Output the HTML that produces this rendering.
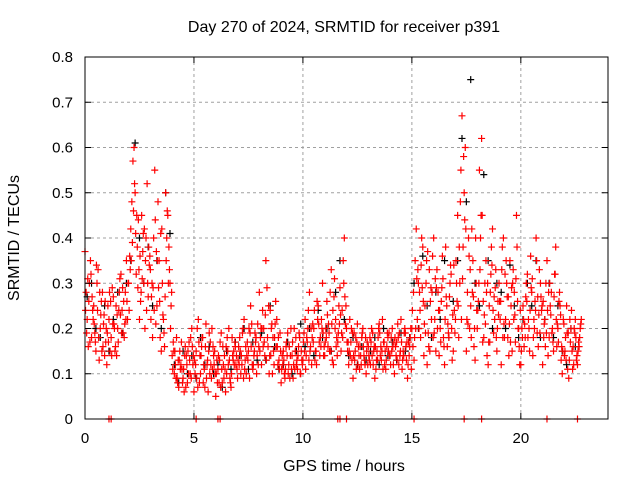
<!DOCTYPE html>
<html><head><meta charset="utf-8"><style>
body{margin:0;background:#fff}
svg{display:block;font-family:"Liberation Sans",sans-serif}
</style></head><body>
<svg id="chart" width="640" height="480" viewBox="0 0 640 480">
<rect width="640" height="480" fill="#fff"/>
<text x="344" y="32" font-size="16" text-anchor="middle">Day 270 of 2024, SRMTID for receiver p391</text>
<text x="344" y="471" font-size="16" text-anchor="middle">GPS time / hours</text>
<text transform="translate(19,238) rotate(-90)" font-size="16" text-anchor="middle">SRMTID / TECUs</text>
<g id="grid"></g>
<g id="marks"></g>
<g id="axes"></g>
</svg>
<script>
const xTicks=[0,5,10,15,20];
const yTicks=[0,0.1,0.2,0.3,0.4,0.5,0.6,0.7,0.8];
const redA=[.37,.22,.30,.18,.25,.15,.33,.20,.28,.14,.12,.22,.18,.27,.16,.20,.31,.24,.18,.35,.30,.42,.57,.50,.38,.22,.45,.30,.40,.27,.33,.18,.55,.25,.35,.15,.22,.50,.45,.30,.14,.10,.18,.07,.12,.09,.16,.08,.13,.20,.06,.15,.22,.10,.18,.07,.12,.19,.09,.14,.05,.11,.17,.08,.14,.10,.20,.07,.13,.16,.09,.18,.12,.22,.10,.15,.25,.11,.19,.14,.28,.12,.20,.35,.16,.24,.10,.18,.22,.13,.08,.15,.11,.19,.09,.14,.20,.12,.16,.10,.13,.22,.17,.28,.12,.20,.15,.25,.18,.30,.14,.26,.19,.33,.12,.22,.17,.29,.24,.40,.20,.12,.17,.09,.15,.21,.11,.18,.14,.10,.16,.12,.19,.09,.15,.21,.13,.17,.11,.18,.14,.20,.10,.17,.12,.22,.15,.19,.09,.16,.20,.13,.42,.30,.18,.38,.25,.12,.33,.22,.40,.15,.28,.20,.36,.12,.25,.18,.32,.15,.22,.45,.30,.67,.50,.15,.40,.25,.35,.13,.20,.55,.62,.18,.35,.12,.28,.42,.22,.15,.30,.12,.40,.22,.18,.35,.15,.28,.45,.20,.12,.25,.18,.32,.15,.28,.22,.40,.16,.30,.12,.22,.35,.18,.28,.15,.38,.20,.25,.10,.14,.25,.09,.20,.16,.22,.12,.18];
const redB=[.28,.16,.35,.24,.19,.30,.13,.26,.21,.17,.25,.15,.29,.20,.14,.24,.32,.19,.28,.22,.36,.48,.60,.32,.44,.26,.37,.20,.52,.34,.27,.40,.21,.48,.18,.30,.16,.40,.38,.25,.17,.12,.08,.15,.11,.06,.14,.10,.18,.12,.10,.20,.08,.16,.12,.21,.06,.17,.11,.15,.13,.08,.19,.12,.06,.15,.09,.18,.12,.14,.16,.10,.20,.13,.17,.09,.21,.14,.18,.12,.18,.24,.14,.29,.10,.20,.15,.26,.12,.19,.14,.10,.17,.12,.20,.09,.15,.11,.18,.13,.19,.14,.24,.16,.21,.13,.26,.17,.22,.14,.20,.16,.28,.13,.31,.18,.25,.15,.35,.21,.15,.22,.13,.19,.11,.16,.14,.20,.12,.17,.13,.20,.15,.11,.18,.14,.22,.12,.16,.19,.18,.12,.16,.21,.14,.11,.19,.13,.17,.20,.16,.35,.22,.28,.40,.14,.30,.19,.26,.36,.22,.33,.14,.26,.18,.38,.21,.30,.13,.24,.30,.18,.55,.38,.60,.28,.20,.42,.16,.30,.26,.40,.17,.30,.14,.25,.38,.19,.33,.26,.22,.38,.18,.30,.14,.25,.33,.17,.26,.12,.20,.16,.30,.22,.36,.14,.26,.19,.33,.24,.18,.30,.14,.25,.20,.32,.16,.26,.13,.22,.18,.11,.22,.15,.20,.13,.17,.21];
const redC=[.24,.31,.17,.27,.21,.34,.18,.23,.16,.26,.19,.28,.14,.21,.25,.17,.23,.29,.21,.26,.24,.35,.46,.41,.29,.36,.31,.42,.24,.38,.22,.29,.44,.35,.26,.42,.19,.35,.30,.20,.11,.15,.09,.13,.17,.11,.07,.15,.10,.16,.13,.09,.17,.14,.08,.16,.13,.10,.20,.12,.10,.14,.07,.16,.11,.18,.13,.10,.15,.12,.13,.15,.19,.11,.14,.20,.16,.12,.17,.21,.15,.20,.17,.13,.25,.14,.18,.21,.16,.11,.11,.13,.16,.10,.14,.17,.11,.13,.19,.15,.17,.11,.20,.15,.18,.24,.12,.21,.16,.19,.17,.23,.15,.21,.27,.16,.19,.23,.18,.27,.17,.15,.20,.14,.18,.12,.16,.19,.13,.15,.14,.17,.12,.16,.13,.19,.15,.17,.13,.15,.12,.16,.18,.13,.19,.17,.14,.16,.12,.18,.24,.18,.31,.20,.34,.26,.19,.37,.15,.28,.19,.29,.24,.17,.31,.22,.16,.27,.20,.34,.35,.25,.48,.31,.44,.22,.36,.18,.27,.40,.24,.33,.45,.23,.28,.17,.32,.24,.29,.20,.26,.33,.21,.35,.27,.17,.30,.23,.38,.16,.15,.22,.27,.18,.24,.31,.20,.35,.23,.27,.26,.16,.24,.30,.19,.27,.22,.17,.23,.15,.15,.19,.13,.24,.12,.18,.15,.20];
const redD=[.19,.26,.32,.22,.17,.24,.28,.15,.23,.20,.17,.26,.21,.15,.23,.28,.19,.26,.22,.30,.33,.39,.52,.45,.33,.28,.41,.35,.30,.36,.30,.24,.37,.29,.41,.23,.27,.46,.33,.28,.15,.09,.13,.11,.08,.14,.12,.17,.09,.14,.12,.07,.14,.18,.11,.09,.15,.12,.16,.10,.08,.13,.11,.09,.16,.12,.08,.14,.17,.11,.12,.14,.09,.16,.13,.19,.12,.15,.10,.16,.20,.16,.23,.18,.14,.21,.12,.16,.18,.15,.12,.09,.14,.16,.11,.12,.18,.14,.10,.12,.15,.18,.13,.20,.17,.15,.22,.14,.20,.16,.18,.21,.15,.24,.20,.14,.21,.19,.30,.25,.17,.14,.19,.13,.17,.14,.12,.16,.18,.12,.18,.14,.16,.13,.20,.16,.11,.15,.19,.14,.15,.17,.14,.18,.15,.13,.20,.17,.14,.11,.28,.20,.33,.24,.29,.21,.35,.16,.29,.18,.31,.20,.24,.29,.16,.27,.19,.34,.23,.19,.26,.38,.22,.58,.42,.21,.33,.28,.20,.24,.30,.45,.26,.21,.30,.17,.34,.27,.18,.23,.26,.18,.32,.27,.21,.29,.22,.31,.20,.24,.18,.21,.26,.20,.29,.18,.24,.27,.19,.25,.21,.19,.28,.23,.17,.32,.21,.28,.16,.21,.13,.19,.17,.11,.19,.14,.16,.22];
const blackV=[.27,.30,.20,.18,.25,.15,.22,.28,.19,.30,.35,.61,.40,.30,.38,.25,.35,.20,.50,.41,.12,.08,.15,.10,.14,.09,.18,.12,.16,.10,.12,.07,.15,.11,.17,.14,.20,.11,.17,.13,.19,.13,.25,.16,.11,.12,.17,.10,.15,.21,.16,.20,.14,.24,.18,.20,.15,.28,.35,.22,.14,.18,.12,.16,.13,.15,.18,.12,.20,.14,.17,.13,.19,.15,.18,.30,.20,.36,.25,.18,.28,.22,.35,.18,.26,.35,.62,.48,.75,.30,.25,.54,.35,.20,.30,.28,.20,.34,.25,.18,.22,.30,.25,.35,.18,.22,.30,.18,.25,.15,.12,.20,.16];
const zeroT=[1.1,1.2,5.1,6.1,6.2,11.6,11.7,12.0,15.1,17.4,18.2,21.2,22.6];
const X0=85,X1=608,Y0=419,Y1=57;
const xs=t=>X0+t/24*(X1-X0), ys=v=>Y0-v/0.8*(Y0-Y1);
const NS='http://www.w3.org/2000/svg';
function mk(tag,at,parent){const e=document.createElementNS(NS,tag);for(const k in at)e.setAttribute(k,at[k]);parent.appendChild(e);return e;}
const grid=document.getElementById('grid'),marks=document.getElementById('marks'),axes=document.getElementById('axes');
xTicks.forEach(t=>{
 if(t>0){const g=mk('line',{x1:xs(t),x2:xs(t),y1:Y0,y2:Y1,stroke:'#a0a0a0','stroke-dasharray':'3,3'},grid);
 
 }
 mk('line',{x1:xs(t),x2:xs(t),y1:Y0,y2:Y0-6,stroke:'#000'},axes);
 mk('line',{x1:xs(t),x2:xs(t),y1:Y1,y2:Y1+6,stroke:'#000'},axes);
 const l=mk('text',{x:xs(t),y:Y0+24,'font-size':15,'text-anchor':'middle'},axes);l.textContent=t;
 
 
});
yTicks.forEach(v=>{
 if(v>0&&v<0.8){const g=mk('line',{x1:X0,x2:X1,y1:ys(v),y2:ys(v),stroke:'#a0a0a0','stroke-dasharray':'3,3'},grid);
 
 }
 mk('line',{x1:X0,x2:X0+6,y1:ys(v),y2:ys(v),stroke:'#000'},axes);
 mk('line',{x1:X1,x2:X1-6,y1:ys(v),y2:ys(v),stroke:'#000'},axes);
 const l=mk('text',{x:X0-12,y:ys(v)+5,'font-size':15,'text-anchor':'end'},axes);l.textContent=String(v);
 
 
});
const frame=mk('rect',{x:X0,y:Y1,width:X1-X0,height:Y0-Y1,fill:'none',stroke:'#000'},axes);


function plus(t,v,col,name){
 const x=xs(t),y=ys(v);
 const p=mk('path',{d:`M${x-3.5},${y}h7M${x},${y-3.5}v7`,stroke:col,'stroke-width':1.2,fill:'none'},marks);
 
 
}
blackV.forEach((v,i)=>plus(i*0.2+0.1,v,'#000','black-point'));
redA.forEach((v,i)=>plus(i*0.1,v,'#f00','red-point'));
redB.forEach((v,i)=>plus(i*0.1+0.05,v,'#f00','red-point'));
redC.forEach((v,i)=>plus(i*0.1+0.025,v,'#f00','red-point'));
redD.forEach((v,i)=>plus(i*0.1+0.075,v,'#f00','red-point'));
zeroT.forEach(t=>plus(t,0,'#f00','red-zero-point'));
</script>
</body></html>
